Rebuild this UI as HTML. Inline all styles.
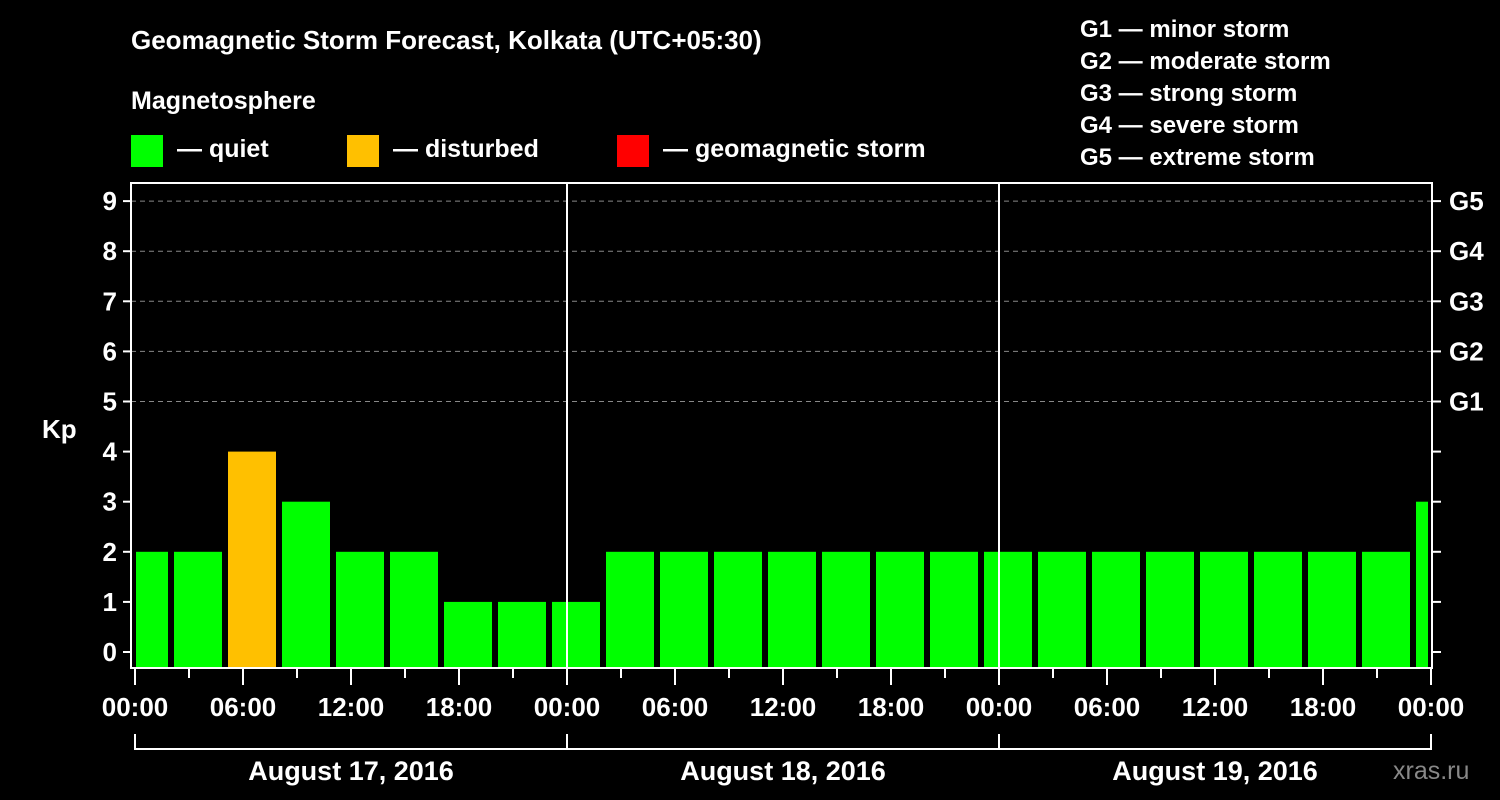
<!DOCTYPE html>
<html><head><meta charset="utf-8"><style>
body{margin:0;background:#000;width:1500px;height:800px;overflow:hidden}
svg{display:block;font-family:"Liberation Sans",Arial,sans-serif;font-weight:bold;fill:#fff}
</style></head><body>
<svg id="chart" width="1500" height="800" viewBox="0 0 1500 800">
<rect width="1500" height="800" fill="#000"/>
<text x="131" y="49" font-size="26">Geomagnetic Storm Forecast, Kolkata (UTC+05:30)</text>
<text x="131" y="109" font-size="25">Magnetosphere</text>
<rect x="131" y="135" width="32" height="32" fill="#00ff00"/>
<text x="177" y="157" font-size="25">— quiet</text>
<rect x="347" y="135" width="32" height="32" fill="#ffc000"/>
<text x="393" y="157" font-size="25">— disturbed</text>
<rect x="617" y="135" width="32" height="32" fill="#ff0000"/>
<text x="663" y="157" font-size="25">— geomagnetic storm</text>
<g font-size="24">
<text x="1080" y="37">G1 — minor storm</text>
<text x="1080" y="69">G2 — moderate storm</text>
<text x="1080" y="101">G3 — strong storm</text>
<text x="1080" y="133">G4 — severe storm</text>
<text x="1080" y="165">G5 — extreme storm</text>
</g>
<text x="42" y="438" font-size="26">Kp</text>
<text x="1393" y="779" font-size="25" fill="#888" style="fill:#888;font-weight:normal">xras.ru</text>
<g id="plot"></g>
</svg>
<script>
const kpValues=[2,2,4,3,2,2,1,1,1,2,2,2,2,2,2,2,2,2,2,2,2,2,2,2,3];
const yTicks=[0,1,2,3,4,5,6,7,8,9];
const gLabels=["G1","G2","G3","G4","G5"];
const hourLabels=["00:00","06:00","12:00","18:00","00:00","06:00","12:00","18:00","00:00","06:00","12:00","18:00","00:00"];
const dayLabels=["August 17, 2016","August 18, 2016","August 19, 2016"];
const NS="http://www.w3.org/2000/svg";
const L=131,R=1432,T=183,B=668;
const x=h=>135+h*18;
const y=v=>652-v*50.1;
const g=document.getElementById('plot');
function mk(t,a){const e=document.createElementNS(NS,t);for(const k in a)e.setAttribute(k,a[k]);g.appendChild(e);return e;}
// grid
yTicks.forEach(v=>{
 if(v>=5){const l=mk('line',{x1:L,x2:R,y1:y(v),y2:y(v),stroke:'#888','stroke-dasharray':'5,4','stroke-width':1});
 
 }
 const t=mk('line',{x1:L-8,x2:L,y1:y(v),y2:y(v),stroke:'#fff','stroke-width':2});
 
 
 const t2=mk('line',{x1:R,x2:R+9,y1:y(v),y2:y(v),stroke:'#fff','stroke-width':2});
 
 
 const tx=mk('text',{x:L-14,y:y(v)+9,'text-anchor':'end','font-size':26});tx.textContent=v;
 
 
});
gLabels.forEach((s,i)=>{
 const tx=mk('text',{x:1449,y:y(5+i)+9,'font-size':26});tx.textContent=s;
 
 
});
// bars
kpValues.forEach((v,i)=>{
 let x0=x(-1+3*i)+3,x1=x(2+3*i)-3;
 x0=Math.max(x0,L+5);x1=Math.min(x1,R-4);
 const c=v>=5?'#ff0000':(v>=4?'#ffc000':'#00ff00');
 const b=mk('rect',{x:x0,y:y(v),width:x1-x0,height:B-y(v),fill:c});
 
 
});
// day separators
[1,2].forEach(d=>{const l=mk('line',{x1:x(24*d),x2:x(24*d),y1:T,y2:B,stroke:'#fff','stroke-width':2});
 
 });
// frame
const f=mk('rect',{x:L,y:T,width:R-L,height:B-T,fill:'none',stroke:'#fff','stroke-width':2});


// x ticks
for(let h=0;h<=72;h+=3){const major=h%6==0;
 const l=mk('line',{x1:x(h),x2:x(h),y1:B,y2:major?685:678,stroke:'#fff','stroke-width':2});
 
 }
hourLabels.forEach((s,i)=>{const tx=mk('text',{x:x(6*i),y:716,'text-anchor':'middle','font-size':26});tx.textContent=s;
 
 });
// day brackets
dayLabels.forEach((s,i)=>{
 const p=mk('path',{d:`M${x(24*i)},734V749H${x(24*i+24)}V734`,fill:'none',stroke:'#fff','stroke-width':2});
 
 
 const tx=mk('text',{x:x(24*i+12),y:780,'text-anchor':'middle','font-size':27});tx.textContent=s;
 
 
});
</script>
</body></html>
